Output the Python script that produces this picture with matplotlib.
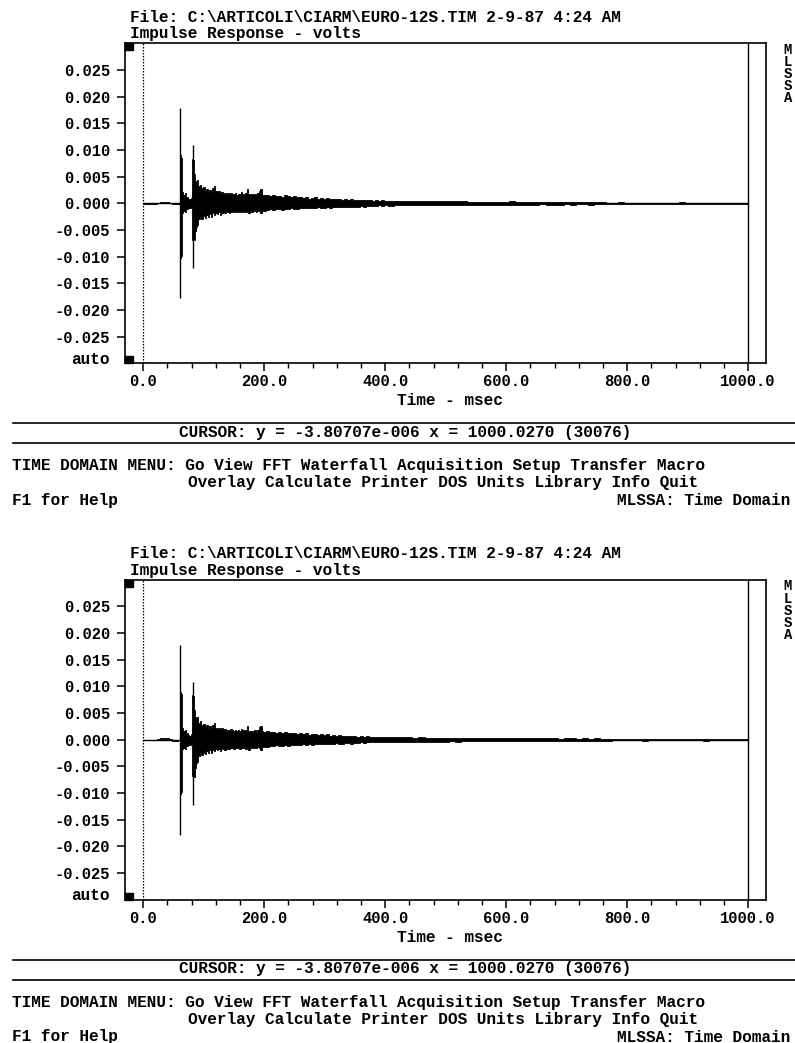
import matplotlib
matplotlib.use("Agg")
import matplotlib.pyplot as plt
import numpy as np
from matplotlib.patches import Rectangle
from matplotlib.lines import Line2D

W, H, DPI = 795, 1043, 100

# ---------------- text content ----------------
header_file = "File: C:\\ARTICOLI\\CIARM\\EURO-12S.TIM 2-9-87 4:24 AM"
header_title = "Impulse Response - volts"
x_label = "Time - msec"
cursor_text = "CURSOR: y = -3.80707e-006 x = 1000.0270 (30076)"
menu_line1 = "TIME DOMAIN MENU: Go View FFT Waterfall Acquisition Setup Transfer Macro"
menu_line2 = "Overlay Calculate Printer DOS Units Library Info Quit"
help_text = "F1 for Help"
mode_text = "MLSSA: Time Domain"
side_letters = ["M", "L", "S", "S", "A"]
auto_label = "auto"

# ---------------- axis ticks ----------------
y_ticks = [0.025, 0.020, 0.015, 0.010, 0.005, 0.000,
           -0.005, -0.010, -0.015, -0.020, -0.025]
y_tick_labels = ["0.025", "0.020", "0.015", "0.010", "0.005", "0.000",
                 "-0.005", "-0.010", "-0.015", "-0.020", "-0.025"]
x_major = [0, 200, 400, 600, 800, 1000]
x_major_labels = ["0.0", "200.0", "400.0", "600.0", "800.0", "1000.0"]
cursor_x = 1000.0

# ---------------- impulse response envelope (ms, mV) ----------------
env_t = [0, 20, 25, 30, 35, 40, 45, 50, 55, 59.5,
         60.5, 62, 63.5,
         65, 67.5, 70, 72.5, 75, 77.5, 80,
         81.5, 83, 84.5,
         86, 87.5, 90, 92.5, 95, 97.5, 100, 102.5, 105, 107.5,
         110, 112.5, 115, 117.5, 120, 122.5, 125, 127.5, 130, 132.5,
         135, 137.5, 140, 142.5, 145, 147.5, 150, 152.5, 155, 157.5,
         160, 162.5, 165, 167.5, 170, 172.5, 175, 177.5, 180, 182.5,
         185, 187.5, 190, 192.5, 195, 197.5, 200,
         205, 210, 215, 220, 225, 230, 235, 240, 245, 250,
         255, 260, 265, 270, 275, 280, 285, 290, 295, 300,
         305, 310, 315, 320, 325, 330, 335, 340, 345, 350,
         355, 360, 365, 370, 375, 380, 385, 390, 395, 400,
         410, 420, 430, 440, 450, 460, 470, 480, 490, 500,
         510, 520, 530, 540, 550, 560, 570, 580, 590, 600,
         610, 620, 630, 640, 650, 660, 670, 680, 690, 700,
         710, 720, 730, 740, 750, 760, 770, 780, 790, 800,
         810, 820, 830, 840, 850, 860, 870, 880, 890, 900,
         910, 920, 930, 940, 950, 960, 970, 980, 990, 1000]
env_hi = [0.05, 0.05, 0.1, 0.25, 0.3, 0.25, 0.1, 0.0, -0.05, 0.0,
          9.3, 9.0, 8.5,
          2.2, 1.6, 1.9, 1.2, 0.9, 0.8, 1.0,
          8.4, 8.2, 5.5,
          4.2, 3.9, 4.3, 3.2, 3.5, 2.8, 3.0, 2.4, 2.7, 2.1,
          2.5, 2.2, 2.8, 3.2, 2.3, 2.1, 2.3, 1.9, 2.2, 1.8,
          2.0, 1.7, 1.9, 1.6, 2.0, 1.8, 1.7, 1.9, 1.6, 1.8,
          1.7, 2.1, 1.8, 1.6, 1.9, 2.6, 1.7, 1.5, 1.7, 1.6,
          1.8, 1.5, 1.9, 2.4, 2.6, 1.6, 1.5,
          1.6, 1.4, 1.5, 1.3, 1.4, 1.2, 1.5, 1.3, 1.2, 1.3,
          1.1, 1.2, 1.0, 1.2, 0.9, 1.0, 1.1, 0.9, 1.0, 0.9,
          1.0, 0.8, 0.9, 0.8, 0.9, 0.7, 0.8, 0.7, 0.8, 0.7,
          0.6, 0.7, 0.6, 0.7, 0.6, 0.5, 0.6, 0.5, 0.6, 0.5,
          0.5, 0.45, 0.5, 0.45, 0.4, 0.45, 0.4, 0.4, 0.35, 0.4,
          0.35, 0.4, 0.35, 0.3, 0.3, 0.25, 0.3, 0.3, 0.25, 0.3,
          0.35, 0.25, 0.3, 0.25, 0.3, 0.25, 0.3, 0.25, 0.2, 0.3,
          0.25, 0.2, 0.25, 0.2, 0.25, 0.2, 0.15, 0.1, 0.2, 0.1,
          0.15, 0.1, 0.1, 0.1, 0.1, 0.15, 0.1, 0.1, 0.2, 0.1,
          0.1, 0.15, 0.1, 0.1, 0.1, 0.1, 0.1, 0.15, 0.1, 0.1]
env_lo = [-0.05, -0.05, 0.0, 0.1, 0.15, 0.1, 0.0, -0.15, -0.2, -0.1,
          -10.5, -10.2, -9.8,
          -1.8, -1.5, -1.7, -1.1, -0.8, -0.9, -0.8,
          -6.8, -6.6, -6.9,
          -5.2, -4.4, -4.1, -3.0, -2.6, -2.9, -2.4, -2.7, -2.1, -2.5,
          -2.0, -2.5, -1.9, -2.1, -1.8, -2.0, -1.7, -2.1, -1.8, -1.6,
          -1.9, -1.5, -1.7, -1.8, -1.6, -1.4, -1.7, -1.5, -1.6, -1.4,
          -1.7, -1.5, -1.6, -1.3, -1.7, -1.5, -1.9, -1.4, -1.6, -1.3,
          -1.5, -1.6, -1.4, -1.5, -1.9, -1.3, -1.4,
          -1.3, -1.1, -1.2, -1.0, -1.1, -1.2, -1.0, -1.1, -0.9, -1.0,
          -1.0, -0.9, -0.8, -0.9, -0.8, -0.9, -0.8, -0.7, -0.8, -0.8,
          -0.7, -0.8, -0.7, -0.6, -0.7, -0.7, -0.6, -0.6, -0.7, -0.6,
          -0.6, -0.5, -0.6, -0.5, -0.5, -0.5, -0.5, -0.4, -0.5, -0.4,
          -0.45, -0.4, -0.4, -0.4, -0.35, -0.4, -0.35, -0.4, -0.35, -0.35,
          -0.3, -0.35, -0.3, -0.3, -0.3, -0.3, -0.25, -0.3, -0.25, -0.3,
          -0.25, -0.3, -0.25, -0.25, -0.3, -0.2, -0.25, -0.25, -0.25, -0.2,
          -0.25, -0.2, -0.2, -0.25, -0.2, -0.2, -0.15, -0.1, -0.1, -0.1,
          -0.1, -0.1, -0.15, -0.1, -0.1, -0.1, -0.1, -0.1, -0.1, -0.1,
          -0.1, -0.1, -0.15, -0.1, -0.1, -0.1, -0.1, -0.1, -0.1, -0.1]

# thin full-height extent of the two main arrivals (ms, mV)
spike_t = [61.5, 82.0]
spike_hi = [17.8, 10.9]
spike_lo = [-17.8, -12.2]

# ---------------- layout (pixels) ----------------
AX_L, AX_R, AX_T, AX_B = 125, 766, 43.3, 363.3
XLIM = (-30.2, 1029.5)
YLIM = (-0.030, 0.030)
PANEL_OFFSETS = [0.0, 536.5]
MONO = ["Liberation Mono", "DejaVu Sans Mono"]
FS = 11.6


def fx(x):
    return x / W


def fy(y):
    return 1 - y / H


fig = plt.figure(figsize=(W / DPI, H / DPI), dpi=DPI)
fig.patch.set_facecolor("white")

t = np.array(env_t)
hi = np.array(env_hi) * 1e-3
lo = np.array(env_lo) * 1e-3

for dy in PANEL_OFFSETS:
    ax = fig.add_axes([fx(AX_L), fy(AX_B + dy), (AX_R - AX_L) / W, (AX_B - AX_T) / H])
    ax.set_xlim(*XLIM)
    ax.set_ylim(*YLIM)
    ax.set_facecolor("white")

    ax.fill_between(t, lo, hi, step="mid", color="black", linewidth=0.6)
    ax.plot([env_t[0], env_t[-1]], [0, 0], color="black", lw=1.0)
    ax.vlines(spike_t, np.array(spike_lo) * 1e-3, np.array(spike_hi) * 1e-3,
              color="black", lw=1.0)

    ax.axvline(0, color="black", lw=0.9, ls=(0, (1.2, 1.2)))
    ax.axvline(cursor_x, color="black", lw=1.0)

    for s in ax.spines.values():
        s.set_linewidth(1.2)
        s.set_color("black")

    ax.set_yticks(y_ticks)
    ax.set_yticklabels(y_tick_labels, fontfamily=MONO, fontweight="bold", fontsize=FS - 0.4)
    ax.set_xticks(x_major)
    ax.set_xticklabels(x_major_labels, fontfamily=MONO, fontweight="bold", fontsize=FS - 0.4)
    ax.set_xticks(np.arange(0, 1001, 40), minor=True)
    ax.tick_params(axis="y", which="major", direction="out", length=5.5, width=1.1, pad=5)
    ax.tick_params(axis="x", which="major", direction="out", length=5.8, width=1.1, pad=2)
    ax.tick_params(axis="x", which="minor", direction="out", length=3.6, width=1.0)
    ax.tick_params(axis="y", which="minor", left=False)

    # corner markers
    sq_w, sq_h = 8 / (AX_R - AX_L), 7 / (AX_B - AX_T)
    ax.add_patch(Rectangle((0, 1 - sq_h), sq_w, sq_h, transform=ax.transAxes,
                           color="black", clip_on=False, zorder=5))
    ax.add_patch(Rectangle((0, 0), sq_w, sq_h, transform=ax.transAxes,
                           color="black", clip_on=False, zorder=5))

    tk = dict(fontfamily=MONO, fontweight="bold", fontsize=FS, color="black")
    fig.text(fx(130), fy(22 + dy), header_file, ha="left", va="baseline", **tk)
    fig.text(fx(130), fy(38 + dy), header_title, ha="left", va="baseline", **tk)
    fig.text(fx(110), fy(364 + dy), auto_label, ha="right", va="baseline", **tk)
    fig.text(fx(788), fy(43 + dy), "\n".join(side_letters), ha="center", va="top",
             linespacing=0.82, multialignment="center",
             fontfamily=MONO, fontweight="bold", fontsize=10.0, color="black")
    fig.text(fx(397), fy(405 + dy), x_label, ha="left", va="baseline", **tk)

    for yy in (423.3, 443.3):
        fig.add_artist(Line2D([fx(13), 1.0], [fy(yy + dy), fy(yy + dy)],
                              color="black", lw=1.2, transform=fig.transFigure))
    fig.text(fx(179), fy(437 + dy), cursor_text, ha="left", va="baseline", **tk)

    fig.text(fx(12), fy(470.5 + dy), menu_line1, ha="left", va="baseline", **tk)
    fig.text(fx(188.5), fy(487.5 + dy), menu_line2, ha="left", va="baseline", **tk)
    fig.text(fx(12), fy(505 + dy), help_text, ha="left", va="baseline", **tk)
    fig.text(fx(790), fy(505 + dy), mode_text, ha="right", va="baseline", **tk)

fig.savefig("out.png", dpi=DPI, facecolor="white")
